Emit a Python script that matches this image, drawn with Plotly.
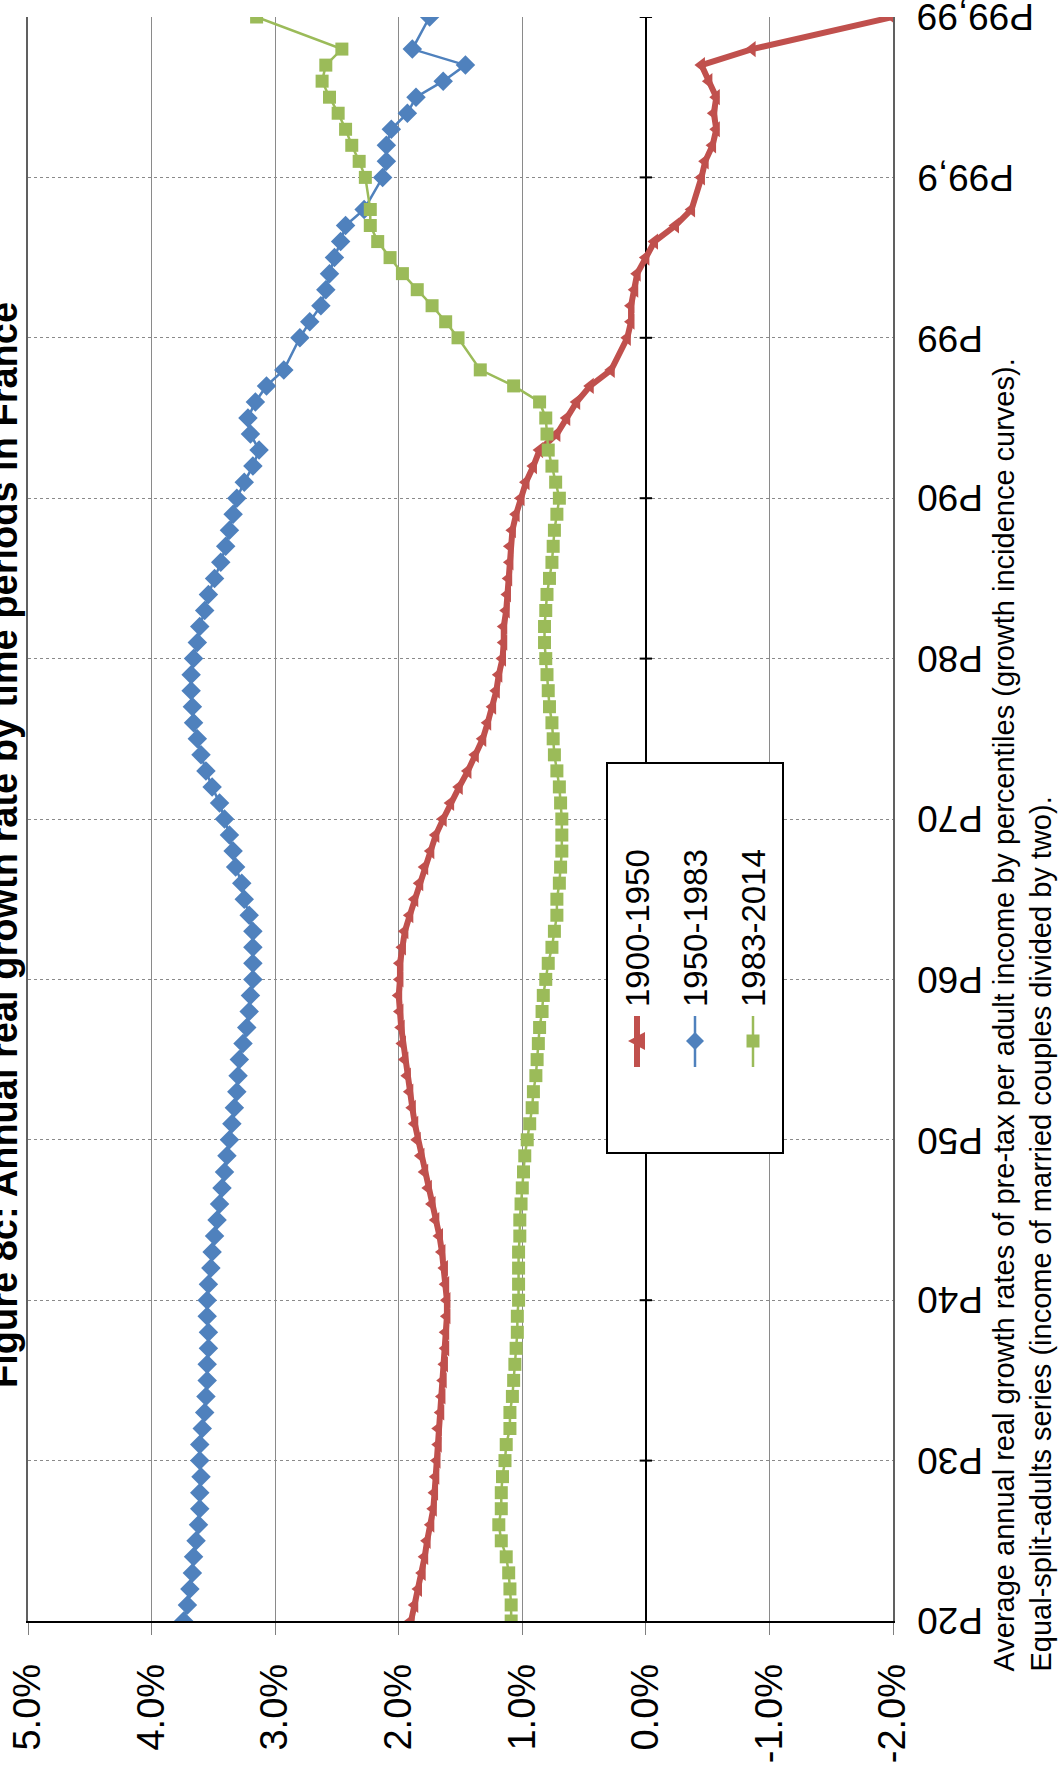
import plotly.graph_objects as go

# ---------------- data ----------------
# category rank of each percentile group on the (rotated) category axis
rank = list(range(0, 79)) + list(range(80, 89)) + list(range(90, 99)) + [100]

tick_rank = [0, 10, 20, 30, 40, 50, 60, 70, 80, 90, 100]
tick_labels = ["P20", "P30", "P40", "P50", "P60", "P70", "P80", "P90", "P99", "P99,9", "P99,99"]

series_names = ["1900-1950", "1950-1983", "1983-2014"]

growth_1900_1950 = [
    1.90, 1.87, 1.84, 1.81, 1.79, 1.77, 1.74, 1.72, 1.71, 1.70,
    1.69, 1.68, 1.68, 1.66, 1.65, 1.64, 1.63, 1.62, 1.62, 1.61,
    1.61, 1.62, 1.63, 1.65, 1.67, 1.70, 1.73, 1.76, 1.79, 1.82,
    1.85, 1.87, 1.89, 1.91, 1.93, 1.95, 1.97, 1.98, 1.99, 2.00,
    1.99, 1.99, 1.97, 1.95, 1.91, 1.87, 1.83, 1.79, 1.74, 1.70,
    1.64, 1.58, 1.51, 1.44, 1.38, 1.32, 1.28, 1.24, 1.21, 1.19,
    1.16, 1.15, 1.15, 1.13, 1.12, 1.11, 1.10, 1.10, 1.08, 1.05,
    1.01, 0.97, 0.91, 0.86, 0.72, 0.64, 0.56, 0.45, 0.28,
    0.15, 0.12, 0.12, 0.09, 0.07, 0.00, -0.07, -0.24, -0.37,
    -0.45, -0.48, -0.54, -0.57, -0.55, -0.57, -0.51, -0.45, -0.86,
    -2.00,
]

growth_1950_1983 = [
    3.74, 3.71, 3.69, 3.67, 3.66, 3.64, 3.62, 3.61, 3.61, 3.60,
    3.61, 3.61, 3.59, 3.57, 3.56, 3.55, 3.55, 3.54, 3.54, 3.55,
    3.55, 3.54, 3.52, 3.51, 3.49, 3.47, 3.45, 3.43, 3.41, 3.39,
    3.37, 3.35, 3.33, 3.31, 3.30, 3.29, 3.26, 3.23, 3.21, 3.20,
    3.18, 3.18, 3.18, 3.18, 3.21, 3.25, 3.27, 3.32, 3.34, 3.37,
    3.41, 3.45, 3.51, 3.56, 3.60, 3.63, 3.66, 3.67, 3.68, 3.68,
    3.66, 3.63, 3.61, 3.57, 3.54, 3.49, 3.44, 3.40, 3.37, 3.34,
    3.31, 3.25, 3.18, 3.13, 3.20, 3.22, 3.16, 3.07, 2.93,
    2.80, 2.72, 2.63, 2.59, 2.56, 2.52, 2.47, 2.43, 2.28,
    2.13, 2.10, 2.10, 2.06, 1.93, 1.86, 1.64, 1.46, 1.89,
    1.75,
]

growth_1983_2014 = [
    1.09, 1.09, 1.10, 1.11, 1.13, 1.17, 1.19, 1.17, 1.17, 1.16,
    1.14, 1.13, 1.10, 1.10, 1.08, 1.07, 1.06, 1.05, 1.04, 1.04,
    1.03, 1.03, 1.03, 1.03, 1.02, 1.02, 1.01, 1.00, 0.99, 0.98,
    0.96, 0.94, 0.92, 0.91, 0.89, 0.88, 0.87, 0.86, 0.84, 0.83,
    0.81, 0.79, 0.76, 0.74, 0.72, 0.72, 0.70, 0.69, 0.68, 0.68,
    0.68, 0.69, 0.70, 0.72, 0.74, 0.75, 0.76, 0.78, 0.79, 0.80,
    0.81, 0.82, 0.82, 0.81, 0.80, 0.78, 0.76, 0.75, 0.74, 0.72,
    0.70, 0.73, 0.76, 0.79, 0.80, 0.81, 0.86, 1.07, 1.34,
    1.52, 1.62, 1.73, 1.85, 1.97, 2.07, 2.17, 2.23, 2.23,
    2.27, 2.32, 2.38, 2.43, 2.49, 2.56, 2.62, 2.59, 2.46,
    3.15,
]

value_ticks = [-2, -1, 0, 1, 2, 3, 4, 5]
value_labels = ["-2.0%", "-1.0%", "0.0%", "1.0%", "2.0%", "3.0%", "4.0%", "5.0%"]

title_text = "Figure 8c: Annual real growth rate by time periods in France"
note_text = ("Average annual real growth rates of pre-tax per adult income by percentiles (growth incidence curves)."
             "<br>Equal-split-adults series (income of married couples divided by two).")

# ---------------- styling ----------------
W, H = 1059, 1769
PL, PR, PT, PB = 28, 893, 17, 1621   # plot-area pixel box
FONT = "Liberation Sans, Arial, sans-serif"
RED, BLUE, GREEN = "#C0504D", "#4F81BD", "#9BBB59"


def px(x):
    return (x - PL) / (PR - PL)


def py(y):
    return (PB - y) / (PB - PT)


fig = go.Figure()

styles = [
    dict(color=RED, width=6, symbol="triangle-left", size=14),
    dict(color=BLUE, width=2.5, symbol="diamond", size=15),
    dict(color=GREEN, width=2.5, symbol="square", size=13),
]
for name, vals, st in zip(series_names, [growth_1900_1950, growth_1950_1983, growth_1983_2014], styles):
    fig.add_trace(go.Scatter(
        x=vals, y=rank, mode="lines+markers", name=name,
        line=dict(color=st["color"], width=st["width"]),
        marker=dict(color=st["color"], symbol=st["symbol"], size=st["size"], line=dict(width=0)),
        showlegend=False, hoverinfo="skip",
    ))

fig.update_layout(
    template="none",
    width=W, height=H,
    margin=dict(l=PL, r=W - PR, t=PT, b=H - PB, pad=0, autoexpand=False),
    paper_bgcolor="white", plot_bgcolor="white",
    font=dict(family=FONT, color="black"),
    xaxis=dict(
        range=[5, -2], tickvals=value_ticks, ticktext=value_labels,
        tickangle=-90, tickfont=dict(size=38, family=FONT, color="black"),
        showgrid=True, gridcolor="#8a8a8a", gridwidth=1,
        zeroline=True, zerolinecolor="black", zerolinewidth=1.5,
        showline=True, linecolor="black", linewidth=1.5, mirror=False,
        ticks="outside", ticklen=12, tickcolor="#7f7f7f", tickwidth=1,
        ticklabelstandoff=14, automargin=False,
    ),
    yaxis=dict(
        range=[0, 100], tickvals=tick_rank, showticklabels=False,
        side="right",
        showgrid=True, gridcolor="#8a8a8a", gridwidth=1, griddash="dot",
        zeroline=False,
        showline=True, linecolor="#606060", linewidth=1.5, mirror=True,
        ticks="", automargin=False,
    ),
)

shapes = []
# small category-axis tick marks where the axis crosses at 0 %
for r in tick_rank[1:]:
    shapes.append(dict(type="line", xref="x", yref="y", x0=0.05, x1=-0.05, y0=r, y1=r,
                       line=dict(color="black", width=2)))

annotations = []
# percentile labels (upside down, as in the rotated original)
for r, lab in zip(tick_rank, tick_labels):
    annotations.append(dict(xref="paper", yref="y", x=px(915), y=r,
                            xanchor="left", yanchor="middle", text=lab, textangle=180,
                            showarrow=False, font=dict(size=37, family=FONT, color="black")))

# legend box (rotated like the chart)
shapes.append(dict(type="rect", xref="paper", yref="paper",
                   x0=px(607), x1=px(783), y0=py(1153), y1=py(763),
                   line=dict(color="black", width=2), fillcolor="white", layer="above"))

leg_x = [637, 695, 753]
leg_line_w = [6, 2.5, 2.5]
colors = [RED, BLUE, GREEN]
for i, (name, ex) in enumerate(zip(series_names, leg_x)):
    shapes.append(dict(type="line", xref="paper", yref="paper",
                       x0=px(ex), x1=px(ex), y0=py(1016), y1=py(1067),
                       line=dict(color=colors[i], width=leg_line_w[i]), layer="above"))
    cy = 1041
    if i == 0:
        pts = [(ex - 9, cy), (ex + 8, cy - 9), (ex + 8, cy + 9)]
    elif i == 1:
        pts = [(ex - 9, cy), (ex, cy - 9), (ex + 9, cy), (ex, cy + 9)]
    else:
        pts = [(ex - 6.5, cy - 6.5), (ex + 6.5, cy - 6.5), (ex + 6.5, cy + 6.5), (ex - 6.5, cy + 6.5)]
    path = "M " + " L ".join(f"{px(a):.5f},{py(b):.5f}" for a, b in pts) + " Z"
    shapes.append(dict(type="path", xref="paper", yref="paper", path=path,
                       fillcolor=colors[i], line=dict(width=0), layer="above"))
    annotations.append(dict(xref="paper", yref="paper", x=px(ex), y=py(1009),
                            xanchor="center", yanchor="bottom", text=name, textangle=-90,
                            showarrow=False, font=dict(size=33, family=FONT, color="black")))

# title (partly cut off at the page edge, as in the reference)
annotations.append(dict(xref="paper", yref="paper", x=px(27), y=py(845),
                        xanchor="right", yanchor="middle", text="<b>" + title_text + "</b>",
                        textangle=-90, showarrow=False,
                        font=dict(size=38, family=FONT, color="black")))

# footnote
annotations.append(dict(xref="paper", yref="paper", x=px(1022), y=py(1674),
                        xanchor="center", yanchor="bottom", text=note_text, align="left",
                        textangle=-90, showarrow=False,
                        font=dict(size=29, family=FONT, color="black")))

fig.update_layout(shapes=shapes, annotations=annotations)

fig.write_html("out.html",
               config={"displayModeBar": False},
               post_script="document.body.style.margin='0px';document.body.style.padding='0px';")
